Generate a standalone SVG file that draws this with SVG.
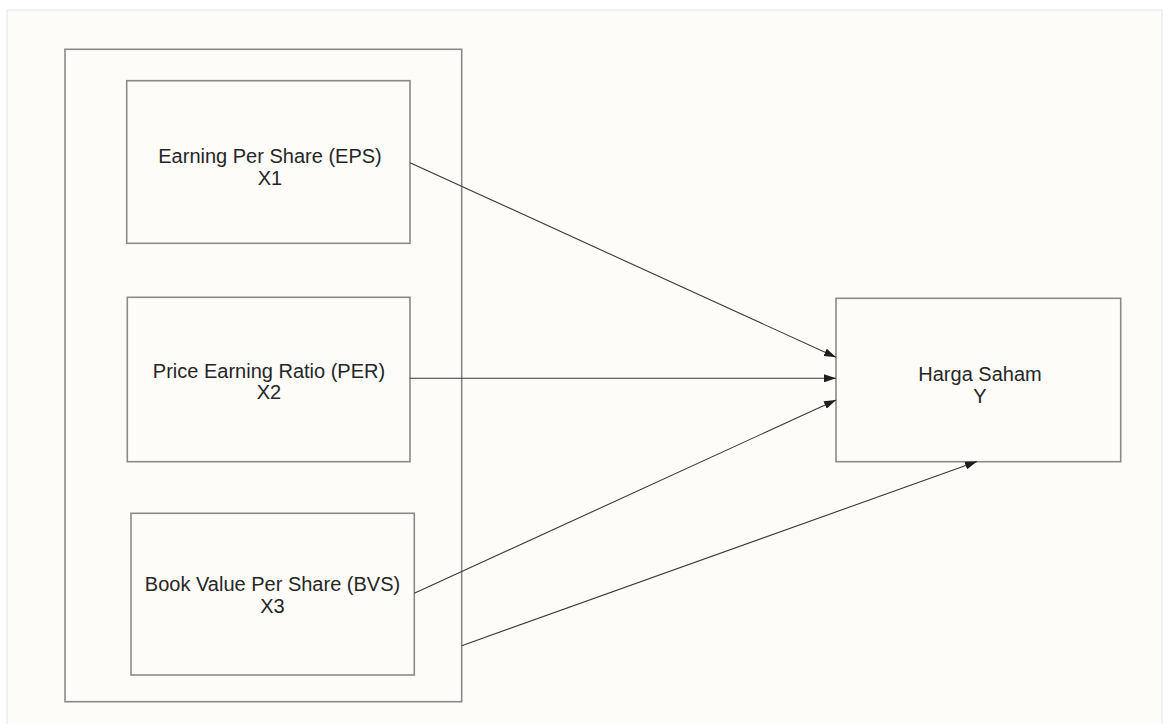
<svg xmlns="http://www.w3.org/2000/svg" width="1171" height="724" viewBox="0 0 1171 724">
  <style>
    .box { fill: none; stroke: #8a8a8a; stroke-width: 1.6; }
    .lbl { font-family: "Liberation Sans", Arial, sans-serif; font-size: 20px; fill: #262626; text-anchor: middle; }
    .edge { fill: none; stroke: #3a3a3a; stroke-width: 1.1; marker-end: url(#arrow); }
  </style>
  <defs>
    <marker id="arrow" viewBox="0 0 12 8" refX="12" refY="4" markerWidth="12" markerHeight="8" markerUnits="userSpaceOnUse" orient="auto">
      <path d="M0,0 L12,4 L0,8 Z" fill="#1e1e1e"/>
    </marker>
  </defs>
  <rect x="0" y="0" width="1171" height="724" fill="#ffffff"/>
  <rect x="7" y="10" width="1155" height="720" fill="#fdfcf9" stroke="#e4e4e4" stroke-width="1"/>

  <g id="container">
    <rect class="box" x="65" y="49.3" width="396.7" height="652.4"/>
  </g>

  <g id="eps">
    <rect class="box" x="126.7" y="80.7" width="283.3" height="162.6"/>
    <text class="lbl" x="270" y="163">Earning Per Share (EPS)</text>
    <text class="lbl" x="270" y="184.5">X1</text>
  </g>

  <g id="per">
    <rect class="box" x="127.3" y="297.3" width="282.7" height="164.4"/>
    <text class="lbl" x="269" y="377.5">Price Earning Ratio (PER)</text>
    <text class="lbl" x="269" y="399">X2</text>
  </g>

  <g id="bvs">
    <rect class="box" x="131" y="513.3" width="283.3" height="161.7"/>
    <text class="lbl" x="272.5" y="590.7">Book Value Per Share (BVS)</text>
    <text class="lbl" x="272.5" y="612.5">X3</text>
  </g>

  <g id="harga">
    <rect class="box" x="836" y="298.3" width="284.7" height="163.4"/>
    <text class="lbl" x="980" y="380.7">Harga Saham</text>
    <text class="lbl" x="980" y="402.5">Y</text>
  </g>

  <g id="connectors">
    <line class="edge" x1="410" y1="162.7" x2="836" y2="357.3"/>
    <line class="edge" x1="410" y1="378.3" x2="836" y2="378.3"/>
    <line class="edge" x1="414.3" y1="593.3" x2="836" y2="400"/>
    <line class="edge" x1="461.7" y1="645.7" x2="977" y2="461.5"/>
  </g>
</svg>
